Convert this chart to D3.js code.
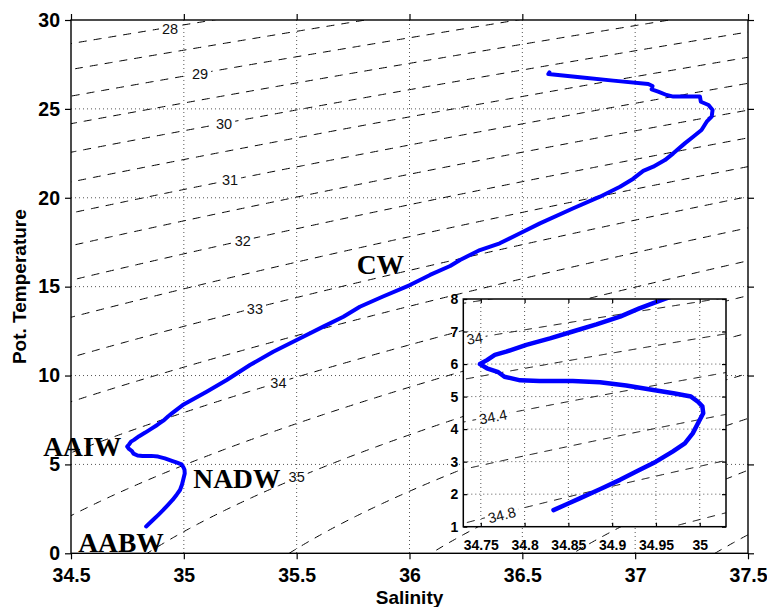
<!DOCTYPE html>
<html>
<head>
<meta charset="utf-8">
<script src="https://cdn.jsdelivr.net/npm/d3@7"></script>
<style>
  html, body { margin: 0; padding: 0; background: #fff; }
  svg { display: block; }
</style>
</head>
<body>
<svg id="chart" width="767" height="607"></svg>
<script>
// ---- Profile: potential temperature (deg C) and salinity, deep to surface ----
const profileTheta = [
  1.51, 1.69, 1.87, 2.15, 2.44, 2.74, 3.00, 3.31, 3.56, 3.87, 4.18, 4.49, 4.70, 4.84,
  5.00, 5.10, 5.20, 5.34, 5.44, 5.48, 5.48, 5.50, 5.61, 5.75, 5.87, 6.00, 6.12, 6.28,
  6.38, 6.59, 6.79, 7.00, 7.22, 7.46, 7.71, 7.87, 8.00, 8.34, 9.09, 9.75, 10.59, 11.34,
  12.00, 12.75, 13.31, 13.87, 14.43, 15.09, 15.66, 16.16, 16.50, 17.06, 17.44, 18.00,
  18.56, 19.41, 20.06, 20.62, 21.06, 21.51, 21.75, 22.12, 22.50, 23.06, 23.43, 23.81,
  24.28, 24.56, 24.94, 25.22, 25.40, 25.69, 25.69, 25.78, 25.97, 26.10, 26.29, 26.40,
  26.59, 26.78, 26.96, 27.05
];
const profileSalt = [
  34.833, 34.848, 34.863, 34.886, 34.909, 34.931, 34.950, 34.969, 34.983, 34.992, 34.998, 35.004, 35.003, 34.998,
  34.990, 34.970, 34.947, 34.916, 34.886, 34.855, 34.817, 34.795, 34.777, 34.770, 34.757, 34.749, 34.757, 34.766,
  34.779, 34.802, 34.829, 34.855, 34.882, 34.909, 34.931, 34.947, 34.960, 34.995, 35.101, 35.190, 35.293, 35.396,
  35.500, 35.618, 35.707, 35.780, 35.880, 36.002, 36.091, 36.180, 36.224, 36.312, 36.400, 36.490,
  36.578, 36.726, 36.844, 36.933, 36.990, 37.036, 37.080, 37.132, 37.169, 37.220, 37.257, 37.294,
  37.317, 37.339, 37.343, 37.325, 37.291, 37.287, 37.169, 37.139, 37.102, 37.073, 37.077, 37.058,
  36.903, 36.755, 36.615, 36.620
];

// ---- Axes ----
const mainSaltTicks = [34.5, 35, 35.5, 36, 36.5, 37, 37.5];
const mainThetaTicks = [0, 5, 10, 15, 20, 25, 30];
const insetSaltTicks = [34.75, 34.8, 34.85, 34.9, 34.95, 35];
const insetThetaTicks = [1, 2, 3, 4, 5, 6, 7, 8];
const mainSaltDomain = [34.5, 37.5];
const mainThetaDomain = [0, 30];
const insetSaltDomain = [34.73, 35.03];
const insetThetaDomain = [1, 8];

// ---- Potential density (referenced to 1500 dbar) contours ----
const referencePressure = 1500;
const mainSigmaLevels = [27.5, 28, 28.5, 29, 29.5, 30, 30.5, 31, 31.5, 32, 32.5, 33, 33.5,
  34, 34.5, 35, 35.5, 36, 36.5, 37, 37.5, 38];
const insetSigmaLevels = [33.6, 33.8, 34, 34.2, 34.4, 34.6, 34.8, 35, 35.2, 35.4, 35.6];

const mainLabelValues = [28, 29, 30, 31, 32, 33, 34, 35];
const mainLabelSalt = [34.939, 35.072, 35.178, 35.205, 35.261, 35.315, 35.419, 35.500];
const mainLabelTheta = [29.53, 26.96, 24.19, 21.00, 17.57, 13.78, 9.60, 4.31];
const insetLabelValues = ["34", "34.4", "34.8"];
const insetLabelSalt = [34.743, 34.764, 34.774];
const insetLabelTheta = [6.79, 4.38, 1.36];

// ---- Water mass names ----
const waterMassNames = ["AAIW", "NADW", "AABW", "CW"];
const waterMassSalt = [34.377, 35.042, 34.532, 35.766];
const waterMassTheta = [5.50, 3.66, 0.09, 15.69];

// ================= UNESCO 1983 (EOS-80) =================
function dens0(S, T) {
  const T68 = T * 1.00024;
  const smow = 999.842594 + (6.793952e-2 + (-9.095290e-3 + (1.001685e-4 +
    (-1.120083e-6 + 6.536332e-9 * T68) * T68) * T68) * T68) * T68;
  const b = 8.24493e-1 + (-4.0899e-3 + (7.6438e-5 + (-8.2467e-7 + 5.3875e-9 * T68) * T68) * T68) * T68;
  const c = -5.72466e-3 + (1.0227e-4 - 1.6546e-6 * T68) * T68;
  return smow + b * S + c * S * Math.sqrt(S) + 4.8314e-4 * S * S;
}
function seck(S, T, Pdbar) {
  const P = Pdbar / 10, T68 = T * 1.00024, SR = Math.sqrt(S);
  const AW = 3.239908 + (1.43713e-3 + (1.16092e-4 - 5.77905e-7 * T68) * T68) * T68;
  const BW = 8.50935e-5 + (-6.12293e-6 + 5.2787e-8 * T68) * T68;
  const KW = 19652.21 + (148.4206 + (-2.327105 + (1.360477e-2 - 5.155288e-5 * T68) * T68) * T68) * T68;
  const A = AW + (2.2838e-3 + (-1.0981e-5 - 1.6078e-6 * T68) * T68 + 1.91075e-4 * SR) * S;
  const B = BW + (-9.9348e-7 + (2.0816e-8 + 9.1697e-10 * T68) * T68) * S;
  const K0 = KW + (54.6746 + (-0.603459 + (1.09987e-2 - 6.1670e-5 * T68) * T68) * T68 +
    (7.944e-2 + (1.6483e-2 - 5.3009e-4 * T68) * T68) * SR) * S;
  return K0 + (A + B * P) * P;
}
function dens(S, T, Pdbar) {
  return dens0(S, T) / (1 - (Pdbar / 10) / seck(S, T, Pdbar));
}
function adtg(S, T, P) {
  const ds = S - 35;
  return 3.5803e-5 + (8.5258e-6 + (-6.836e-8 + 6.6228e-10 * T) * T) * T
    + (1.8932e-6 - 4.2393e-8 * T) * ds
    + ((1.8741e-8 + (-6.7795e-10 + (8.733e-12 - 5.4481e-14 * T) * T) * T)
      + (-1.1351e-10 + 2.7759e-12 * T) * ds) * P
    + (-4.6206e-13 + (1.8676e-14 - 2.1687e-16 * T) * T) * P * P;
}
function ptmp(S, T, P, PR) {
  const dP = PR - P, r2 = Math.SQRT2;
  let dth = dP * adtg(S, T, P);
  let th = T + 0.5 * dth;
  let q = dth;
  dth = dP * adtg(S, th, P + 0.5 * dP);
  th = th + (1 - 1 / r2) * (dth - q);
  q = (2 - r2) * dth + (-2 + 3 / r2) * q;
  dth = dP * adtg(S, th, P + 0.5 * dP);
  th = th + (1 + 1 / r2) * (dth - q);
  q = (2 + r2) * dth + (-2 - 3 / r2) * q;
  dth = dP * adtg(S, th, P + dP);
  return th + (dth - 2 * q) / 6;
}
function potentialSigma(S, theta) {
  return dens(S, ptmp(S, theta, 0, referencePressure), referencePressure) - 1000;
}

// ================= Drawing =================
const svg = d3.select("#chart");
const W = 767, H = 607;
const SANS = "'Liberation Sans', Arial, Helvetica, sans-serif";
const SERIF = "'Liberation Serif', 'Times New Roman', serif";

const main = { left: 71, right: 748, top: 20, bottom: 553.3 };
const inset = { left: 463.3, right: 726, top: 299, bottom: 526.7 };

const xMain = d3.scaleLinear().domain(mainSaltDomain).range([main.left, main.right]);
const yMain = d3.scaleLinear().domain(mainThetaDomain).range([main.bottom, main.top]);
const xIn = d3.scaleLinear().domain(insetSaltDomain).range([inset.left, inset.right]);
const yIn = d3.scaleLinear().domain(insetThetaDomain).range([inset.bottom, inset.top]);

svg.append("rect").attr("width", W).attr("height", H).attr("fill", "#fff");
const defs = svg.append("defs");

function addClip(id, box) {
  defs.append("clipPath").attr("id", id).append("rect")
    .attr("x", box.left).attr("y", box.top)
    .attr("width", box.right - box.left).attr("height", box.bottom - box.top);
}
addClip("clipMain", main);
addClip("clipInset", inset);

function drawGrid(g, xs, ys, xTicks, yTicks, box) {
  g.selectAll("line.gx").data(xTicks.filter(v => xs(v) > box.left + 1 && xs(v) < box.right - 1))
    .join("line").attr("class", "gx")
    .attr("x1", d => xs(d)).attr("x2", d => xs(d)).attr("y1", box.top).attr("y2", box.bottom);
  g.selectAll("line.gy").data(yTicks.filter(v => ys(v) < box.bottom - 1 && ys(v) > box.top + 1))
    .join("line").attr("class", "gy")
    .attr("y1", d => ys(d)).attr("y2", d => ys(d)).attr("x1", box.left).attr("x2", box.right);
  g.selectAll("line").attr("stroke", "#555").attr("stroke-width", 1).attr("stroke-dasharray", "1,3");
}

function drawIsopycnals(g, xs, ys, sDom, tDom, nx, ny, levels) {
  const pad = 2;
  const dS = (sDom[1] - sDom[0]) / nx, dT = (tDom[1] - tDom[0]) / ny;
  const gw = nx + 1 + 2 * pad, gh = ny + 1 + 2 * pad;
  const S0 = sDom[0] - pad * dS, T0 = tDom[0] - pad * dT;
  const values = new Float64Array(gw * gh);
  for (let j = 0; j < gh; j++) {
    for (let i = 0; i < gw; i++) values[j * gw + i] = potentialSigma(S0 + i * dS, T0 + j * dT);
  }
  const contours = d3.contours().size([gw, gh]).thresholds(levels)(values);
  const proj = d3.geoTransform({
    point(x, y) { this.stream.point(xs(S0 + (x - 0.5) * dS), ys(T0 + (y - 0.5) * dT)); }
  });
  const path = d3.geoPath(proj);
  g.selectAll("path").data(contours).join("path")
    .attr("d", path).attr("fill", "none").attr("stroke", "#000")
    .attr("stroke-width", 1).attr("stroke-dasharray", "8,7");
}

// screen angle of the isopycnal through (S, theta)
function contourAngle(xs, ys, S, T) {
  const h = 1e-3;
  const gS = (potentialSigma(S + h, T) - potentialSigma(S - h, T)) / (2 * h);
  const gT = (potentialSigma(S, T + h) - potentialSigma(S, T - h)) / (2 * h);
  const kx = (xs.range()[1] - xs.range()[0]) / (xs.domain()[1] - xs.domain()[0]);
  const ky = (ys.range()[0] - ys.range()[1]) / (ys.domain()[1] - ys.domain()[0]);
  return Math.atan2(-gS * ky, -gT * kx) * 180 / Math.PI;
}

function drawContourLabels(g, maskId, xs, ys, texts, sal, th, fontSize, rotate) {
  const mask = defs.append("mask").attr("id", maskId).attr("maskUnits", "userSpaceOnUse")
    .attr("x", 0).attr("y", 0).attr("width", W).attr("height", H);
  mask.append("rect").attr("width", W).attr("height", H).attr("fill", "#fff");
  texts.forEach((t, i) => {
    const x = xs(sal[i]), y = ys(th[i]);
    const a = rotate ? contourAngle(xs, ys, sal[i], th[i]) : 0;
    const txt = g.append("text")
      .attr("transform", `translate(${x},${y}) rotate(${a})`)
      .attr("text-anchor", "middle").attr("dy", "0.36em")
      .attr("font-family", SANS).attr("font-size", fontSize).attr("fill", "#111")
      .text(String(t));
    const len = txt.node().getComputedTextLength();
    mask.append("rect")
      .attr("transform", `translate(${x},${y}) rotate(${a})`)
      .attr("x", -len / 2 - 3).attr("y", -fontSize * 0.45)
      .attr("width", len + 6).attr("height", fontSize * 0.9).attr("fill", "#000");
  });
}

function drawProfile(g, xs, ys, width) {
  const pts = profileSalt.map((s, i) => [s, profileTheta[i]]);
  g.append("path").datum(pts)
    .attr("d", d3.line().x(d => xs(d[0])).y(d => ys(d[1])))
    .attr("fill", "none").attr("stroke", "#0000ff").attr("stroke-width", width)
    .attr("stroke-linejoin", "round").attr("stroke-linecap", "round");
}

// ---------- Main panel ----------
const gMainClip = svg.append("g").attr("clip-path", "url(#clipMain)");
drawGrid(gMainClip.append("g"), xMain, yMain, mainSaltTicks, mainThetaTicks, main);
const gMainLabels = svg.append("g");
const gMainContours = gMainClip.append("g").attr("mask", "url(#maskMain)");
drawContourLabels(gMainLabels, "maskMain", xMain, yMain, mainLabelValues, mainLabelSalt, mainLabelTheta, 14.5, false);
drawIsopycnals(gMainContours, xMain, yMain, mainSaltDomain, mainThetaDomain, 300, 300, mainSigmaLevels);
drawProfile(gMainClip.append("g"), xMain, yMain, 4);
gMainLabels.raise();

// water mass names
svg.append("g").selectAll("text").data(waterMassNames).join("text")
  .attr("x", (d, i) => xMain(waterMassSalt[i]))
  .attr("y", (d, i) => yMain(waterMassTheta[i]))
  .attr("font-family", SERIF).attr("font-weight", "bold").attr("font-size", 27.5)
  .attr("fill", "#000").text(d => d);

// main axes
const fmt = d => String(d);
function styleAxis(sel, fontSize) {
  sel.select(".domain").remove();
  sel.selectAll(".tick line").attr("stroke", "#000").attr("stroke-width", 1.2);
  sel.selectAll(".tick text").attr("font-family", SANS).attr("font-weight", "bold")
    .attr("font-size", fontSize).attr("fill", "#000");
}
svg.append("g").attr("transform", `translate(0,${main.bottom})`)
  .call(d3.axisBottom(xMain).tickValues(mainSaltTicks).tickFormat(fmt).tickSize(6).tickPadding(9))
  .call(s => styleAxis(s, 19.5));
svg.append("g").attr("transform", `translate(0,${main.top})`)
  .call(d3.axisTop(xMain).tickValues(mainSaltTicks).tickFormat("").tickSize(6))
  .call(s => styleAxis(s, 19.5));
svg.append("g").attr("transform", `translate(${main.left},0)`)
  .call(d3.axisLeft(yMain).tickValues(mainThetaTicks).tickFormat(fmt).tickSize(6).tickPadding(5))
  .call(s => styleAxis(s, 19.5));
svg.append("g").attr("transform", `translate(${main.right},0)`)
  .call(d3.axisRight(yMain).tickValues(mainThetaTicks).tickFormat("").tickSize(6))
  .call(s => styleAxis(s, 19.5));
svg.append("rect")
  .attr("x", main.left).attr("y", main.top)
  .attr("width", main.right - main.left).attr("height", main.bottom - main.top)
  .attr("fill", "none").attr("stroke", "#000").attr("stroke-width", 1.4);

svg.append("text")
  .attr("x", (main.left + main.right) / 2).attr("y", 604)
  .attr("text-anchor", "middle").attr("font-family", SANS).attr("font-weight", "bold")
  .attr("font-size", 19).text("Salinity");
svg.append("text")
  .attr("transform", `translate(26,${(main.top + main.bottom) / 2}) rotate(-90)`)
  .attr("text-anchor", "middle").attr("font-family", SANS).attr("font-weight", "bold")
  .attr("font-size", 19).text("Pot. Temperature");

// ---------- Inset panel ----------
svg.append("rect")
  .attr("x", inset.left).attr("y", inset.top)
  .attr("width", inset.right - inset.left).attr("height", inset.bottom - inset.top)
  .attr("fill", "#fff");
const gInClip = svg.append("g").attr("clip-path", "url(#clipInset)");
drawGrid(gInClip.append("g"), xIn, yIn, insetSaltTicks, insetThetaTicks, inset);
const gInLabels = svg.append("g");
const gInContours = gInClip.append("g").attr("mask", "url(#maskInset)");
drawContourLabels(gInLabels, "maskInset", xIn, yIn, insetLabelValues, insetLabelSalt, insetLabelTheta, 14.5, true);
drawIsopycnals(gInContours, xIn, yIn, insetSaltDomain, insetThetaDomain, 300, 280, insetSigmaLevels);
drawProfile(gInClip.append("g"), xIn, yIn, 4.5);
gInLabels.raise();

svg.append("g").attr("transform", `translate(0,${inset.bottom})`)
  .call(d3.axisBottom(xIn).tickValues(insetSaltTicks).tickFormat(fmt).tickSize(-4).tickPadding(13))
  .call(s => styleAxis(s, 14));
svg.append("g").attr("transform", `translate(0,${inset.top})`)
  .call(d3.axisTop(xIn).tickValues(insetSaltTicks).tickFormat("").tickSize(-4))
  .call(s => styleAxis(s, 14));
svg.append("g").attr("transform", `translate(${inset.left},0)`)
  .call(d3.axisLeft(yIn).tickValues(insetThetaTicks).tickFormat(fmt).tickSize(-4).tickPadding(5))
  .call(s => styleAxis(s, 14));
svg.append("g").attr("transform", `translate(${inset.right},0)`)
  .call(d3.axisRight(yIn).tickValues(insetThetaTicks).tickFormat("").tickSize(-4))
  .call(s => styleAxis(s, 14));
svg.append("rect")
  .attr("x", inset.left).attr("y", inset.top)
  .attr("width", inset.right - inset.left).attr("height", inset.bottom - inset.top)
  .attr("fill", "none").attr("stroke", "#000").attr("stroke-width", 1.5);
</script>
</body>
</html>
